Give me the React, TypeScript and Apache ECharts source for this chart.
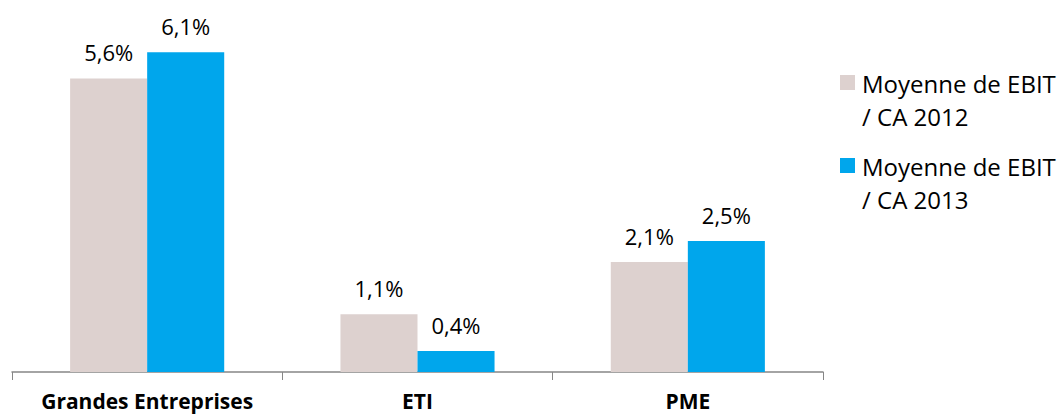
import React, { useEffect, useRef } from "react";
import * as echarts from "echarts";

const categories = ["Grandes Entreprises", "ETI", "PME"];
const seriesNames = ["Moyenne de EBIT / CA 2012", "Moyenne de EBIT / CA 2013"];
const legendLines = [
  ["Moyenne de EBIT", "/ CA 2012"],
  ["Moyenne de EBIT", "/ CA 2013"],
];
const values2012 = [5.6, 1.1, 2.1];
const values2013 = [6.1, 0.4, 2.5];
const colors = ["#DDD1CF", "#00A6EC"];

const FONT = "Open Sans";

export default function App() {
  const ref = useRef<HTMLDivElement>(null);
  useEffect(() => {
    if (!ref.current) return;
    const chart = echarts.init(ref.current, null, { renderer: "svg" });
    const fmt = (p: any) => p.value.toFixed(1).replace(".", ",") + "%";
    const label = {
      show: true,
      position: "top" as const,
      distance: 15,
      formatter: fmt,
      fontFamily: FONT,
      fontSize: 22,
      color: "#000",
    };
    const legendGraphic: any[] = [];
    legendLines.forEach((lines, i) => {
      const y0 = 75 + i * 83;
      legendGraphic.push({
        type: "rect",
        left: 840,
        top: y0,
        shape: { width: 15, height: 15 },
        style: { fill: colors[i] },
      });
      legendGraphic.push({
        type: "text",
        left: 862,
        top: y0 - 8,
        style: {
          text: lines.join("\n"),
          fontFamily: FONT,
          fontSize: 24,
          lineHeight: 33,
          fill: "#000",
        },
      });
    });
    chart.setOption({
      animation: false,
      grid: { left: 12, right: 235, top: 5, bottom: 44 },
      graphic: legendGraphic,
      xAxis: {
        type: "category",
        data: categories,
        axisLine: { lineStyle: { color: "#868686", width: 1.5 } },
        axisTick: { show: true, interval: 0, length: 8, lineStyle: { color: "#868686" } },
        axisLabel: {
          interval: 0,
          fontFamily: FONT,
          fontWeight: "bold",
          fontSize: 21,
          color: "#000",
          margin: 18,
        },
      },
      yAxis: {
        type: "value",
        min: 0,
        max: 7,
        show: false,
        splitLine: { show: false },
      },
      series: [
        {
          name: seriesNames[0],
          type: "bar",
          data: values2012,
          itemStyle: { color: colors[0] },
          barGap: "0%",
          barCategoryGap: "43%",
          label,
        },
        {
          name: seriesNames[1],
          type: "bar",
          data: values2013,
          itemStyle: { color: colors[1] },
          barGap: "0%",
          barCategoryGap: "43%",
          label,
        },
      ],
    });
    return () => chart.dispose();
  }, []);
  return (
    <div
      ref={ref}
      style={{ position: "absolute", left: 0, top: 0, width: 1058, height: 416 }}
    />
  );
}
